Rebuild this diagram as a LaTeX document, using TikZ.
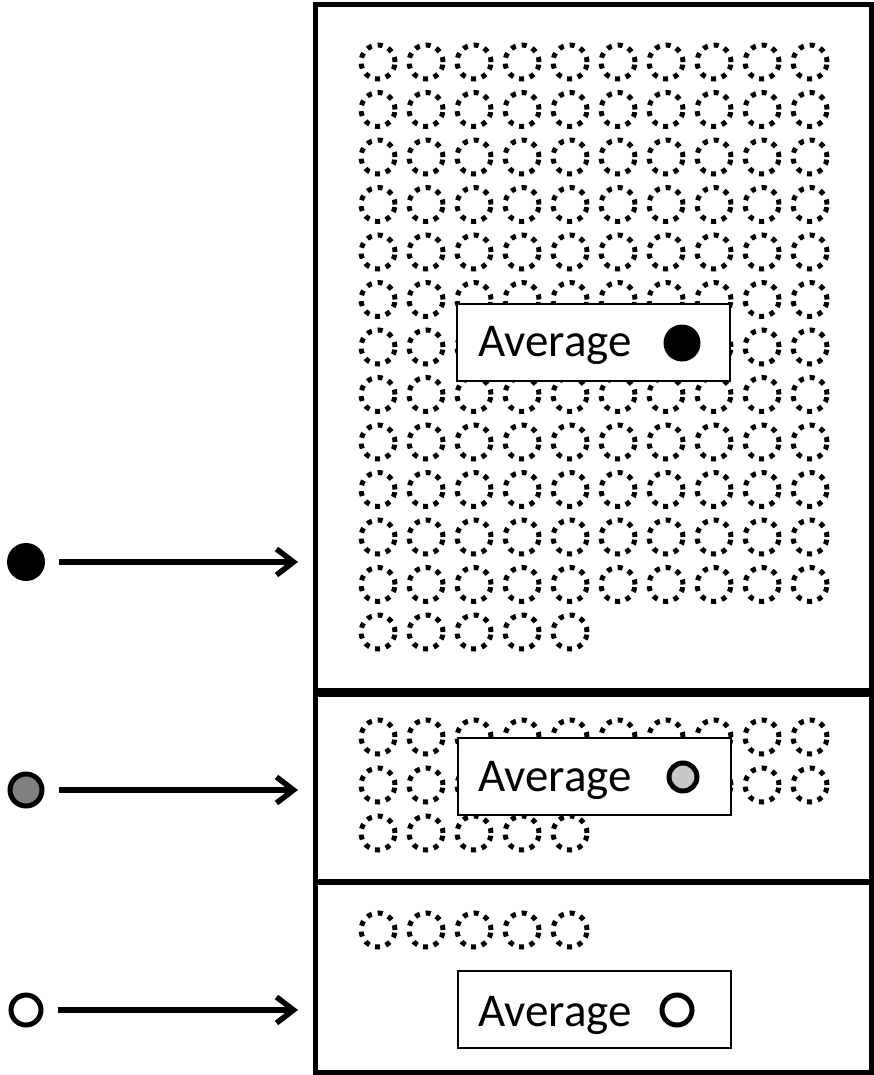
\documentclass[tikz,border=0pt]{standalone}
\usepackage{fontspec}
\setmainfont{Carlito}
\usetikzlibrary{arrows.meta}
\definecolor{midgrey}{HTML}{808080}
\definecolor{lightgrey}{HTML}{C8C8C8}
\begin{document}
\begin{tikzpicture}[x=1pt,y=-1pt,
  sec/.style={draw, line width=5pt, rectangle, inner sep=0pt, minimum width=556pt},
  avgbox/.style={draw, line width=2.5pt, fill=white, rectangle, inner sep=0pt, minimum width=273pt, minimum height=77pt},
  lbl/.style={inner sep=0pt, anchor=base west, font=\fontsize{47}{52}\selectfont},
  dotc/.style={draw, dash pattern=on 5pt off 6pt, line width=5pt},
  arr/.style={line width=5.5pt, -{Straight Barb[length=17pt,width=26pt]}, shorten <=14pt, shorten >=15pt},
  blob/.style={circle, inner sep=0pt},
]
\useasboundingbox (0,0) rectangle (874,1075);
% sections
\node[sec, minimum height=685pt] (s1) at (593.5,347.5) {};
\node[sec, minimum height=187pt] (s2) at (593.5,787.5) {};
\node[sec, minimum height=189.5pt] (s3) at (593.5,977.25) {};
% dotted circles, top section
\foreach \r in {0,...,11}
  \foreach \c in {0,...,9}
    \draw[dotc] ({378+48*\c},{62+47.5*\r}) circle[radius=17pt];
\foreach \c in {0,...,4}
  \draw[dotc] ({378+48*\c},632) circle[radius=17pt];
% middle section
\foreach \r in {0,1}
  \foreach \c in {0,...,9}
    \draw[dotc] ({378+48*\c},{737+48*\r}) circle[radius=17pt];
\foreach \c in {0,...,4}
  \draw[dotc] ({378+48*\c},833) circle[radius=17pt];
% bottom section
\foreach \c in {0,...,4}
  \draw[dotc] ({378+48*\c},930) circle[radius=17pt];
% average boxes
\node[avgbox] (a1) at (593.5,342.5) {};
\node[lbl] (t1) at (478,356) {Average};
\node[blob, fill=black, minimum size=37pt] (m1) at (682,343) {};
\node[avgbox] (a2) at (594.5,776.5) {};
\node[lbl] (t2) at (478,791) {Average};
\node[blob, draw, line width=5pt, fill=lightgrey, minimum size=28pt] (m2) at (683,777) {};
\node[avgbox] (a3) at (594.5,1009.5) {};
\node[lbl] (t3) at (478,1026) {Average};
\node[blob, draw, line width=5pt, fill=white, minimum size=30pt] (m3) at (677,1010) {};
% left markers and arrows
\node[blob, fill=black, minimum size=38pt] (d1) at (26,562) {};
\node[blob, draw, line width=5pt, fill=midgrey, minimum size=32pt] (d2) at (26,790) {};
\node[blob, draw, line width=5pt, fill=white, minimum size=30pt] (d3) at (26,1010) {};
\draw[arr] (d1) -- (d1 -| s1.west);
\draw[arr] (d2) -- (d2 -| s2.west);
\draw[arr] (d3) -- (d3 -| s3.west);
\end{tikzpicture}
\end{document}
